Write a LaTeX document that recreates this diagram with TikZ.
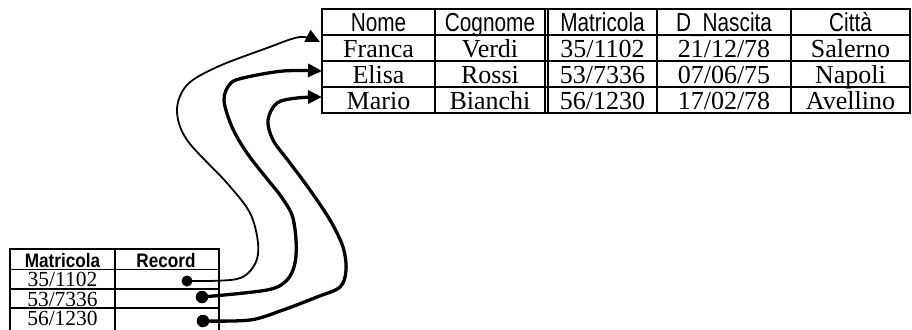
\documentclass[tikz,border=0pt]{standalone}
\usepackage{fontspec}
\setmainfont{Liberation Serif}
\newfontfamily\hdrfont[FakeStretch=0.8]{Liberation Sans}
\newfontfamily\hdrboldfont[FakeStretch=0.88]{Liberation Sans}
\usetikzlibrary{arrows.meta}
\begin{document}
\begin{tikzpicture}[x=1pt,y=-1pt,
  tbl/.style={line width=1.5pt},
  hdr/.style={font=\hdrfont\fontsize{26}{28}\selectfont, anchor=base, inner sep=0pt},
  dat/.style={font=\fontsize{26}{28}\selectfont, anchor=base, inner sep=0pt},
  bhdr/.style={font=\hdrboldfont\bfseries\fontsize{19.5}{21}\selectfont, anchor=base, inner sep=0pt},
  bdat/.style={font=\fontsize{21.5}{23}\selectfont, anchor=base, inner sep=0pt},
  dotn/.style={circle, fill=black, minimum size=11pt, inner sep=0pt},
  thinlink/.style={line width=1.8pt, -{Triangle[length=14pt,width=13pt]}},
  thicklink/.style={line width=3.3pt, -{Triangle[length=14pt,width=13pt]}}
]
\useasboundingbox (0,0) rectangle (912,329);
\clip (0,0) rectangle (912,329);

% top table
\draw[tbl] (322,9) rectangle (910,113);
\foreach \y in {35,61,87} \draw[tbl] (322,\y) -- (910,\y);
\foreach \x in {435,545,548,657,791} \draw[tbl] (\x,9) -- (\x,113);

\node[hdr] (hnome) at (378.5,32) {Nome};
\node[hdr] (hcogn) at (490,32) {Cognome};
\node[hdr] (hmatr) at (602.5,32) {Matricola};
\node[hdr] (hnasc) at (724,32) {D\_Nascita};
\node[hdr] (hcitt) at (850.5,32) {Città};

\node[dat] (n1) at (378.5,57.5) {Franca};
\node[dat] (c1) at (490,57.5) {Verdi};
\node[dat] (m1) at (602.5,57.5) {35/1102};
\node[dat] (b1) at (724,57.5) {21/12/78};
\node[dat] (t1c) at (850.5,57.5) {Salerno};

\node[dat] (n2) at (378.5,83.5) {Elisa};
\node[dat] (c2) at (490,83.5) {Rossi};
\node[dat] (m2) at (602.5,83.5) {53/7336};
\node[dat] (b2) at (724,83.5) {07/06/75};
\node[dat] (t2c) at (850.5,83.5) {Napoli};

\node[dat] (n3) at (378.5,109.5) {Mario};
\node[dat] (c3) at (490,109.5) {Bianchi};
\node[dat] (m3) at (602.5,109.5) {56/1230};
\node[dat] (b3) at (724,109.5) {17/02/78};
\node[dat] (t3c) at (850.5,109.5) {Avellino};

% index table
\draw[tbl] (10,335) -- (10,249) -- (219,249) -- (219,335);
\draw[tbl] (115,249) -- (115,335);
\foreach \y in {269.5,289,308} \draw[tbl] (10,\y) -- (219,\y);

\node[bhdr] (imatr) at (62.5,267) {Matricola};
\node[bhdr] (irec) at (166,267) {Record};
\node[bdat] (i1) at (62.5,286.5) {35/1102};
\node[bdat] (i2) at (62.5,306) {53/7336};
\node[bdat] (i3) at (62.5,325.5) {56/1230};

% pointer ends
\coordinate (p1) at (187,281);
\coordinate (p2) at (202,297);
\coordinate (p3) at (203,321);
\coordinate (a1) at (320,42);
\coordinate (a2) at (322,71);
\coordinate (a3) at (322,97);

\draw[thinlink] plot[smooth, tension=0.55] coordinates {(p1) (237,279) (255,264) (258,243) (250,213) (227,183) (187,140) (177,110) (187,85) (217,67) (267,48) (300,37) (a1)};
\draw[thicklink] plot[smooth, tension=0.55] coordinates {(p2) (267,290) (287,280) (295,263) (296,240) (292,215) (280,195) (268,180) (247,153) (232,127) (224,100) (230,84) (243,78) (283,71) (a2)};
\draw[thicklink] plot[smooth, tension=0.55] coordinates {(p3) (250,320) (283,310) (317,297) (340,287) (346,270) (343,247) (330,220) (310,190) (290,163) (273,140) (268,120) (277,103) (297,98) (a3)};

\node[dotn] (d1) at (p1) {};
\node[dotn, minimum size=12.5pt] (d2) at (p2) {};
\node[dotn, minimum size=12.5pt] (d3) at (p3) {};
\end{tikzpicture}
\end{document}
